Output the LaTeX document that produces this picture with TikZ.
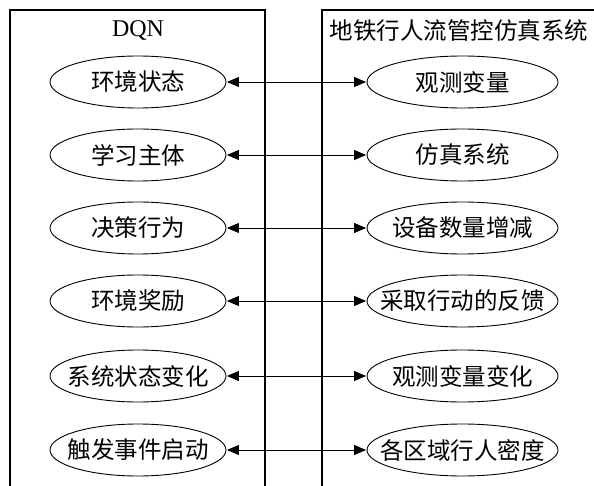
\documentclass[tikz,border=0pt]{standalone}
\usepackage{fontspec}
\setmainfont{Liberation Serif}
\newfontfamily\cjk{Noto Sans CJK SC}
\usetikzlibrary{arrows.meta,shapes.geometric}
\tikzset{
  ellL/.style={draw, ellipse, line width=0.9pt, minimum width=176pt, minimum height=52pt, inner sep=0pt,
    font=\cjk\fontsize{23.5}{26}\selectfont},
  ellR/.style={ellL, minimum width=191pt},
  title/.style={inner sep=0pt, anchor=center},
  frame/.style={line width=1.1pt},
  link/.style={line width=0.9pt, {Triangle[length=12pt,width=10pt]}-{Triangle[length=12pt,width=10pt]}, shorten <=0.5pt, shorten >=0.5pt}
}
\begin{document}
\begin{tikzpicture}[x=1pt,y=-1pt]
\useasboundingbox (0,0) rectangle (594,486);
% frames
\draw[frame] (10,486) -- (10,10) -- (265,10) -- (265,486);
\draw[frame] (322,486) -- (322,10) -- (594,10);
% titles
\node[title, font=\fontsize{24}{28}\selectfont] (tL) at (138,31) {DQN};
\node[title, font=\cjk\fontsize{23.5}{26}\selectfont] (tR) at (459,31) {地铁行人流管控仿真系统};
% left ellipses
\node[ellL] (l1) at (138,82)  {\makebox[0pt]{环境状态}};
\node[ellL] (l2) at (138,155) {\makebox[0pt]{学习主体}};
\node[ellL] (l3) at (138,228) {\makebox[0pt]{决策行为}};
\node[ellL] (l4) at (138,301) {\makebox[0pt]{环境奖励}};
\node[ellL] (l5) at (138,376) {\makebox[0pt]{系统状态变化}};
\node[ellL] (l6) at (138,450) {\makebox[0pt]{触发事件启动}};
% right ellipses
\node[ellR] (r1) at (462.5,82)  {\makebox[0pt]{观测变量}};
\node[ellR] (r2) at (462.5,155) {\makebox[0pt]{仿真系统}};
\node[ellR] (r3) at (462.5,228) {\makebox[0pt]{设备数量增减}};
\node[ellR] (r4) at (462.5,301) {\makebox[0pt]{采取行动的反馈}};
\node[ellR] (r5) at (462.5,376) {\makebox[0pt]{观测变量变化}};
\node[ellR] (r6) at (462.5,450) {\makebox[0pt]{各区域行人密度}};
% links
\foreach \i in {1,...,6} {
  \draw[link] (l\i.east) -- (r\i.west);
}
\end{tikzpicture}
\end{document}
